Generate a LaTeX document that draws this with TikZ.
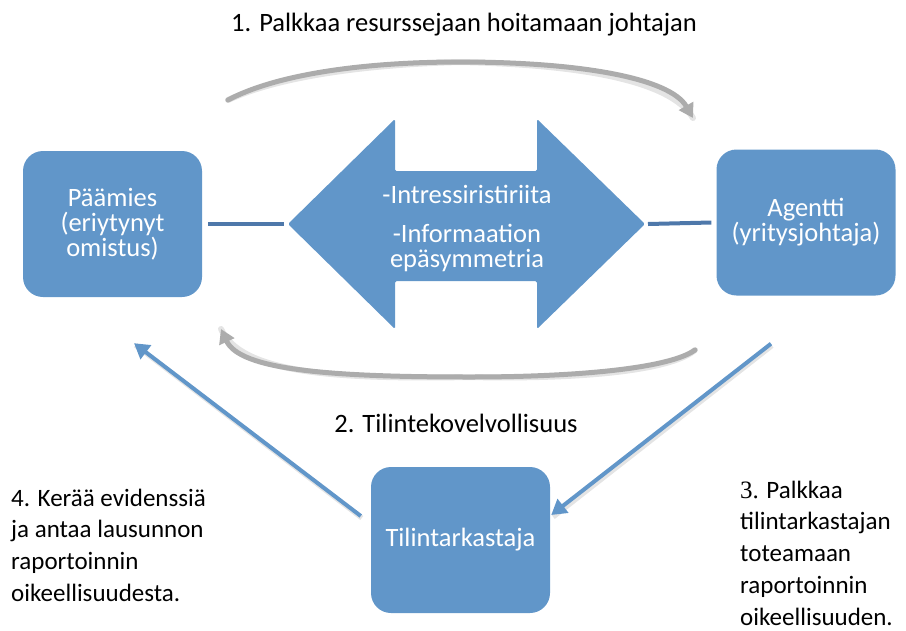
\documentclass[tikz,border=0pt]{standalone}
\usepackage{fontspec}
\setmainfont{Carlito}
\newfontfamily\numserif{Liberation Serif}
\usetikzlibrary{arrows.meta}
\definecolor{boxblue}{RGB}{97,150,201}
\definecolor{barblue}{RGB}{78,120,170}
\definecolor{curvegray}{RGB}{172,172,172}
\definecolor{shadowgray}{RGB}{228,228,228}

\begin{document}
\begin{tikzpicture}[x=1pt,y=-1pt,
  party/.style={fill=boxblue, rounded corners=20pt, minimum width=179pt,
    minimum height=146pt, text=white, align=center, inner sep=0pt,
    font=\fontsize{26.5}{25}\selectfont},
  caption/.style={font=\fontsize{25}{31.8}\selectfont, align=left,
    inner sep=0pt, text=black},
  heading/.style={font=\fontsize{26.5}{30}\selectfont, inner sep=0pt,
    text=black},
  bar/.style={draw=barblue, line width=4pt},
  loop/.style={draw=curvegray, line width=5pt, line cap=round,
    -{Triangle[length=14pt,width=16pt]}},
  loopshadow/.style={draw=shadowgray, line width=6pt, line cap=round},
  flow/.style={draw=boxblue, line width=4pt,
    -{Triangle[length=15pt,width=17pt]}},
  flowshadow/.style={draw=shadowgray, line width=5pt},
]
\useasboundingbox (0,0) rectangle (906,630);

% the three parties
\node[party] (pam) at (112.5,224) {Päämies\\(eriytynyt\\omistus)};
\node[party] (agent) at (806,222.5) {Agentti\\(yritysjohtaja)};
\node[party] (audit) at (460.5,540) {Tilintarkastaja};

% double-headed arrow between principal and agent
\coordinate (ltip) at (288,224);
\coordinate (rtip) at (645,224);
\fill[boxblue, rounded corners=1.5pt]
  (ltip) -- (395,119) -- (395,171) -- (537,171) -- (537,119) -- (rtip)
  -- (537,329) -- (537,281) -- (395,281) -- (395,329) -- cycle;
\node[text=white, align=center, inner sep=0pt,
  font=\fontsize{26.5}{25}\selectfont] (conflict) at (467,228)
  {-Intressiristiriita\\[14pt]-Informaation\\epäsymmetria};

% short bars joining the parties to the arrow
\draw[bar] ([xshift=6pt]pam.east) -- ([xshift=-4pt]ltip);
\draw[bar] ([xshift=3pt]rtip) -- ([xshift=-5pt]agent.west);

% curved loops: hiring (top) and accountability (bottom)
\coordinate (hireA) at (228,100);
\coordinate (hireM) at (460,62);
\coordinate (hireB) at (693,118);
\coordinate (accA) at (695,350);
\coordinate (accM) at (470,377);
\coordinate (accB) at (221,329);
\begin{scope}[shift={(1,2.5)}]
\draw[loopshadow] (hireA) .. controls (275,75) and (360,62) .. (hireM)
  .. controls (580,62) and (670,78) .. (hireB);
\draw[loopshadow] (accA) .. controls (670,368) and (580,377) .. (accM)
  .. controls (330,377) and (240,370) .. (accB);
\end{scope}
\draw[loop] (hireA) .. controls (275,75) and (360,62) .. (hireM)
  .. controls (580,62) and (670,78) .. (hireB);
\draw[loop] (accA) .. controls (670,368) and (580,377) .. (accM)
  .. controls (330,377) and (240,370) .. (accB);

% auditor arrows
\draw[flowshadow] ([xshift=-9pt,yshift=22pt]audit.west) -- ([xshift=23pt,yshift=-48pt]pam.south);
\draw[flow] ([xshift=-10pt,yshift=24pt]audit.west) -- ([xshift=21.5pt,yshift=-46pt]pam.south);
\draw[flowshadow] ([xshift=-34pt,yshift=-50pt]agent.south) -- ([xshift=3pt,yshift=23pt]audit.east);
\draw[flow] ([xshift=-35pt,yshift=-48pt]agent.south) -- ([xshift=1pt,yshift=25pt]audit.east);

% labels
\node[heading, anchor=base] (hire) at (464,31)
  {1. Palkkaa resurssejaan hoitamaan johtajan};
\node[heading, anchor=base] (account) at (456,432)
  {2. Tilintekovelvollisuus};
\node[caption, anchor=north west] (evidence) at (11,488.5)
  {4. Kerää evidenssiä\\ja antaa lausunnon\\raportoinnin\\oikeellisuudesta.};
\node[caption, anchor=north west] (hireaud) at (740,480.5)
  {{\numserif 3.} Palkkaa\\tilintarkastajan\\toteamaan\\raportoinnin\\oikeellisuuden.};
\end{tikzpicture}
\end{document}
